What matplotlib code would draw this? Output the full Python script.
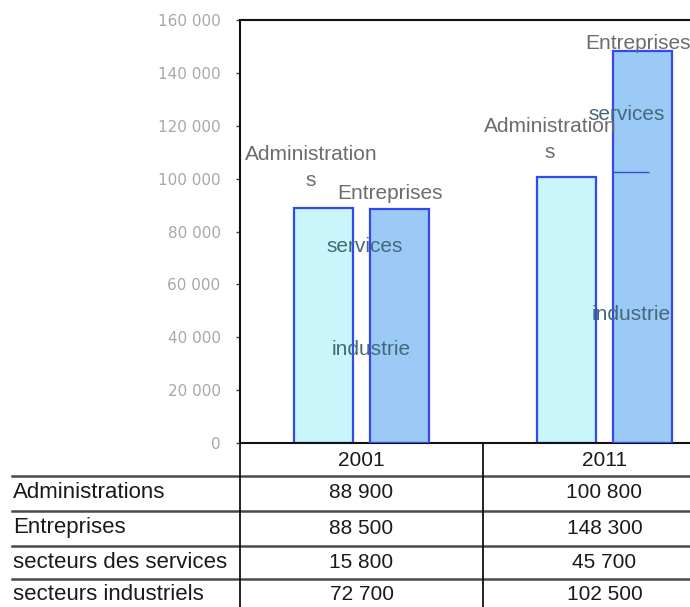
import numpy as np
import matplotlib
matplotlib.use("Agg")
import matplotlib.pyplot as plt
from matplotlib.lines import Line2D
from matplotlib.transforms import blended_transform_factory

# ---- data ----
years = ["2001", "2011"]
administrations = [88900, 100800]
entreprises = [88500, 148300]
services = [15800, 45700]
industrie = [72700, 102500]
row_labels = ["Administrations", "Entreprises", "secteurs des services", "secteurs industriels"]
label_admin = "Administrations"
label_ent = "Entreprises"
label_serv = "services"
label_ind = "industrie"
yticks = [0, 20000, 40000, 60000, 80000, 100000, 120000, 140000, 160000]


def fmt(v):
    return f"{v:,}".replace(",", " ")


W, H = 690, 607
fig = plt.figure(figsize=(W / 100, H / 100), dpi=100)
ax = fig.add_axes([240 / W, (H - 443) / H, 486 / W, 423 / H])

x = np.arange(len(years))
off = 0.158
bw = 0.243
edge = "#3448f0"
c_admin = "#c8f6fa"
c_ent = "#9ccaf6"

ax.bar(x - off, administrations, bw, color=c_admin, edgecolor=edge, linewidth=1.6, zorder=2)
ax.bar(x + off, industrie, bw, color=c_ent, edgecolor="none", zorder=2)
ax.bar(x + off, services, bw, bottom=industrie, color=c_ent, edgecolor="none", zorder=2)
ax.bar(x + off, entreprises, bw, fill=False, edgecolor=edge, linewidth=1.6, zorder=3)
# boundary between segments (visible in 2011)
ax.hlines(industrie[1], x[1] + off - bw / 2, x[1] + off + bw * 0.1, color="#3050c8", linewidth=1.0, zorder=3)

ax.set_xlim(-0.5, 1.5)
ax.set_ylim(0, 160000)
ax.set_xticks([])
ax.set_yticks(yticks)
ax.set_yticklabels([fmt(v) for v in yticks], fontsize=11, color="#a8a8a8", family="DejaVu Sans")
ax.tick_params(axis="y", direction="out", length=3, width=1, color="#444444", pad=11)
for s in ["left", "top", "bottom"]:
    ax.spines[s].set_linewidth(1.5)
    ax.spines[s].set_color("#111111")
ax.spines["right"].set_visible(False)

lab_font = dict(fontsize=15, family="Liberation Sans")
gray = "#6c6c6c"
teal = "#45697a"
adm_txt = label_admin[:-1] + "\n" + label_admin[-1]
adm_off = [(-12, 18), (-16, 15)]
ent_off = [(-10, 6), (-5, -2)]
serv_off = [(-35, -17), (-16, -3)]
ind_off = [(-29, -3), (-12, -7)]
for i in range(len(years)):
    ax.annotate(adm_txt, xy=(x[i] - off, administrations[i]), xytext=adm_off[i],
                textcoords="offset pixels", ha="center", va="bottom", color=gray,
                linespacing=1.45, zorder=5, **lab_font)
    ax.annotate(label_ent, xy=(x[i] + off, entreprises[i]), xytext=ent_off[i],
                textcoords="offset pixels", ha="center", va="bottom", color=gray,
                zorder=5, annotation_clip=False, **lab_font)
    ax.annotate(label_serv, xy=(x[i] + off, industrie[i] + services[i] / 2), xytext=serv_off[i],
                textcoords="offset pixels", ha="center", va="center", color=teal, zorder=5, **lab_font)
    ax.annotate(label_ind, xy=(x[i] + off, industrie[i] / 2), xytext=ind_off[i],
                textcoords="offset pixels", ha="center", va="center", color=teal, zorder=5, **lab_font)

# ---- table ----
def fy(py):
    return 1 - py / H


bt = blended_transform_factory(ax.transData, fig.transFigure)
tab_font = dict(fontsize=15, family="Liberation Sans", color="#1a1a1a")
row_font = dict(fontsize=16, family="Liberation Sans", color="#1a1a1a")
header_y = 460
row_y = [493, 528, 563, 595]
for j, yr in enumerate(years):
    fig.text(x[j], fy(header_y), yr, transform=bt, ha="center", va="center", **tab_font)
table_vals = [administrations, entreprises, services, industrie]
for r, (lab, vals) in enumerate(zip(row_labels, table_vals)):
    fig.text(13 / W, fy(row_y[r]), lab, ha="left", va="center", **row_font)
    for j in range(len(years)):
        fig.text(x[j], fy(row_y[r]), fmt(vals[j]), transform=bt, ha="center", va="center", **tab_font)

for ly in [476, 511, 546, 579]:
    fig.add_artist(Line2D([12 / W, 1], [fy(ly), fy(ly)], transform=fig.transFigure,
                          color="#4a4a4a", linewidth=1.8))
for xv in [-0.5, 0.5]:
    fig.add_artist(Line2D([xv, xv], [fy(443), 0], transform=bt, color="#111111", linewidth=1.3))

fig.savefig("out.png", dpi=100)
